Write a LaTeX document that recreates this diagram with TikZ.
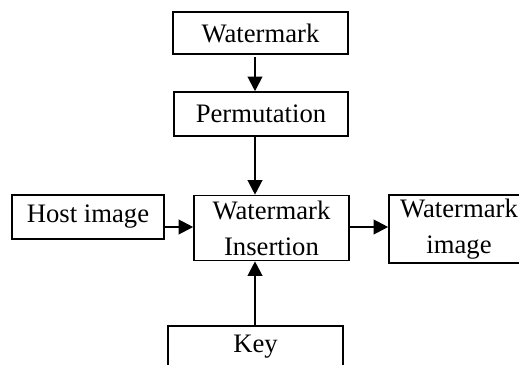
\documentclass[tikz,border=0pt]{standalone}
\usepackage{fontspec}
\setmainfont{Liberation Serif}
\usetikzlibrary{arrows.meta}
\begin{document}
\begin{tikzpicture}[x=0.75pt,y=-0.75pt,
  blk/.style={draw,line width=1.2pt,inner sep=0pt,align=center,
    font=\fontsize{20}{27}\selectfont},
  conn/.style={line width=1.6pt,-{Triangle[length=11pt,width=11pt]}}]
\useasboundingbox (0,0) rectangle (519,365);
\clip (0,0) rectangle (519,365);
\node[blk,minimum width=131.25pt,minimum height=31.5pt] (wm) at (260.5,33) {Watermark};
\node[blk,minimum width=130.5pt,minimum height=33pt] (perm) at (261,114) {Permutation};
\node[blk,minimum width=116.25pt,minimum height=48.75pt] (ins) at (271.5,228) {Watermark\\Insertion};
\node[blk,minimum width=114pt,minimum height=33pt] (host) at (88,217) {Host image};
\node[blk,minimum width=105pt,minimum height=51pt] (wmi) at (459,229) {Watermark\\image};
\node[blk,minimum width=131.25pt,minimum height=39pt,text height=19.5pt,text depth=19.5pt] (key) at (255.5,352) {Key};
\coordinate (ax) at (255,0);
\coordinate (ay) at (0,227);
\draw[conn] ([yshift=-2pt]wm.south -| ax) -- (perm.north -| ax);
\draw[conn] (perm.south -| ax) -- (ins.north -| ax);
\draw[conn] (key.north -| ax) -- (ins.south -| ax);
\draw[conn] (host.east |- ay) -- (ins.west |- ay);
\draw[conn] (ins.east |- ay) -- (wmi.west |- ay);
\end{tikzpicture}
\end{document}
